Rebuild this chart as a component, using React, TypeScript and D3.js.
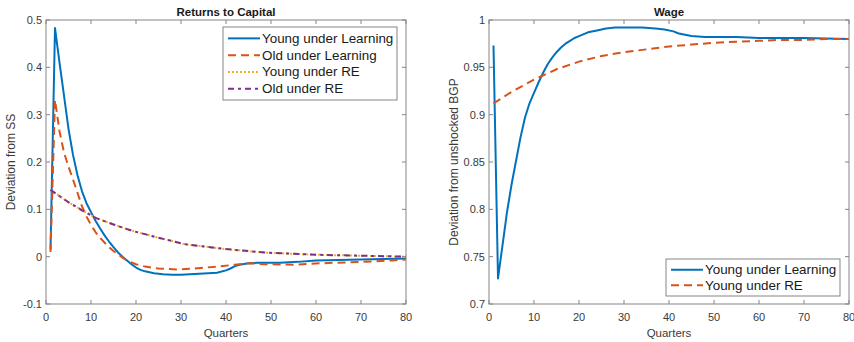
import * as d3 from 'd3';

// Returns to Capital (left panel)
const capYoungLearnX = [1, 2, 3, 4, 5, 6, 7, 8, 9, 10, 11, 12, 13, 14, 15, 16, 17, 18, 19, 20, 21, 22, 24, 26, 28, 30, 32, 34, 36, 38, 40, 41, 42, 43, 45, 47, 50, 52, 54, 56, 60, 65, 70, 75, 80];
const capYoungLearnY = [0.015, 0.483, 0.41, 0.34, 0.27, 0.215, 0.172, 0.138, 0.113, 0.094, 0.076, 0.06, 0.045, 0.032, 0.02, 0.009, 0.0, -0.008, -0.016, -0.023, -0.028, -0.031, -0.035, -0.037, -0.038, -0.038, -0.037, -0.036, -0.035, -0.034, -0.029, -0.025, -0.02, -0.017, -0.014, -0.013, -0.013, -0.013, -0.012, -0.011, -0.008, -0.007, -0.006, -0.005, -0.004];

const capOldLearnX = [1, 2, 3, 4, 5, 6, 7, 8, 9, 10, 11, 12, 13, 14, 15, 16, 17, 18, 20, 22, 25, 29, 33, 38, 42, 45, 49, 55, 61, 70, 77, 80];
const capOldLearnY = [0.01, 0.331, 0.265, 0.22, 0.19, 0.163, 0.135, 0.106, 0.085, 0.067, 0.052, 0.04, 0.03, 0.02, 0.012, 0.005, -0.002, -0.008, -0.016, -0.021, -0.025, -0.027, -0.025, -0.021, -0.017, -0.014, -0.016, -0.017, -0.014, -0.011, -0.008, -0.006];

const capREX = [1, 5, 8, 11, 15, 19, 25, 31, 40, 49, 60, 70, 80];
const capYoungREY = [0.141, 0.115, 0.098, 0.082, 0.068, 0.055, 0.04, 0.026, 0.016, 0.0085, 0.004, 0.002, 0.0];
const capOldREY = [0.141, 0.115, 0.098, 0.082, 0.068, 0.055, 0.04, 0.026, 0.016, 0.0085, 0.004, 0.002, 0.0];

// Wage (right panel)
const wageYoungLearnX = [1, 2, 3, 4, 5, 6, 7, 8, 9, 10, 11, 12, 13, 14, 15, 16, 17, 18, 19, 20, 22, 24, 26, 28, 30, 34, 37, 39, 41, 42, 43, 45, 48, 55, 60, 70, 80];
const wageYoungLearnY = [0.973, 0.727, 0.762, 0.797, 0.826, 0.851, 0.876, 0.897, 0.912, 0.923, 0.934, 0.944, 0.953, 0.96, 0.966, 0.971, 0.975, 0.978, 0.981, 0.983, 0.987, 0.989, 0.991, 0.992, 0.992, 0.992, 0.991, 0.99, 0.988, 0.986, 0.985, 0.983, 0.982, 0.982, 0.981, 0.981, 0.98];

const wageYoungREX = [1, 5, 10, 15, 20, 25, 30, 35, 40, 45, 50, 55, 60, 65, 70, 75, 80];
const wageYoungREY = [0.912, 0.924, 0.937, 0.948, 0.956, 0.962, 0.966, 0.969, 0.972, 0.974, 0.976, 0.977, 0.978, 0.979, 0.979, 0.98, 0.98];

const xTicks = [0, 10, 20, 30, 40, 50, 60, 70, 80];
const capTicks = [-0.1, 0, 0.1, 0.2, 0.3, 0.4, 0.5];
const wageTicks = [0.7, 0.75, 0.8, 0.85, 0.9, 0.95, 1];

const BLUE = '#0072BD';
const ORANGE = '#D95319';
const YELLOW = '#EDB120';
const PURPLE = '#7E2F8E';
const AXIS = '#858585';
const TEXT = '#3a3a3a';
const FONT = '"Liberation Sans", Arial, sans-serif';

interface Series {
  xs: number[];
  ys: number[];
  color: string;
  dash?: string;
  label: string;
}

interface PanelProps {
  left: number;
  right: number;
  top: number;
  bottom: number;
  yDomain: [number, number];
  yTicks: number[];
  title: string;
  yLabel: string;
  series: Series[];
  legend: { x: number; y: number; w: number; h: number };
}

function Panel(p: PanelProps) {
  const x = d3.scaleLinear().domain([0, 80]).range([p.left, p.right]);
  const y = d3.scaleLinear().domain(p.yDomain).range([p.bottom, p.top]);
  const line = d3.line<[number, number]>().x(d => x(d[0])).y(d => y(d[1]));
  const midX = (p.left + p.right) / 2;
  const midY = (p.top + p.bottom) / 2;
  const rowH = (p.legend.h - 6) / p.series.length;

  return (
    <g>
      <defs>
        <clipPath id={`clip-${p.left}`}>
          <rect x={p.left} y={p.top} width={p.right - p.left} height={p.bottom - p.top} />
        </clipPath>
      </defs>
      {/* series */}
      <g clipPath={`url(#clip-${p.left})`}>
        {p.series.map((s, i) => (
          <path
            key={i}
            d={line(s.xs.map((v, j) => [v, s.ys[j]] as [number, number])) || ''}
            fill="none"
            stroke={s.color}
            strokeWidth={2}
            strokeDasharray={s.dash}
            strokeLinejoin="round"
          />
        ))}
      </g>
      {/* box */}
      <rect x={p.left} y={p.top} width={p.right - p.left} height={p.bottom - p.top} fill="none" stroke={AXIS} strokeWidth={1} />
      {/* x ticks */}
      {xTicks.map(t => (
        <g key={`x${t}`}>
          <line x1={x(t)} x2={x(t)} y1={p.bottom} y2={p.bottom - 4} stroke={AXIS} />
          <line x1={x(t)} x2={x(t)} y1={p.top} y2={p.top + 4} stroke={AXIS} />
          <text x={x(t)} y={p.bottom + 17} textAnchor="middle" fontSize={11} fill={TEXT} fontFamily={FONT}>{t}</text>
        </g>
      ))}
      {/* y ticks */}
      {p.yTicks.map(t => (
        <g key={`y${t}`}>
          <line x1={p.left} x2={p.left + 4} y1={y(t)} y2={y(t)} stroke={AXIS} />
          <line x1={p.right} x2={p.right - 4} y1={y(t)} y2={y(t)} stroke={AXIS} />
          <text x={p.left - 4} y={y(t) + 4} textAnchor="end" fontSize={11} fill={TEXT} fontFamily={FONT}>{String(t)}</text>
        </g>
      ))}
      <text x={midX} y={p.top - 4} textAnchor="middle" fontSize={11.5} fontWeight="bold" fill="#1a1a1a" fontFamily={FONT}>{p.title}</text>
      <text x={midX} y={p.bottom + 33} textAnchor="middle" fontSize={11.5} fill={TEXT} fontFamily={FONT}>Quarters</text>
      <text
        transform={`translate(${p.left - 31},${midY}) rotate(-90)`}
        textAnchor="middle"
        fontSize={12}
        fill={TEXT}
        fontFamily={FONT}
      >{p.yLabel}</text>
      {/* legend */}
      <rect x={p.legend.x} y={p.legend.y} width={p.legend.w} height={p.legend.h} fill="#fff" stroke={AXIS} />
      {p.series.map((s, i) => {
        const cy = p.legend.y + 3 + rowH * (i + 0.5);
        return (
          <g key={`l${i}`}>
            <line x1={p.legend.x + 5} x2={p.legend.x + 37} y1={cy} y2={cy} stroke={s.color} strokeWidth={2} strokeDasharray={s.dash} />
            <text x={p.legend.x + 39} y={cy + 4.5} fontSize={13.4} fill="#1a1a1a" fontFamily={FONT}>{s.label}</text>
          </g>
        );
      })}
    </g>
  );
}

export default function App() {
  const capSeries: Series[] = [
    { xs: capYoungLearnX, ys: capYoungLearnY, color: BLUE, label: 'Young under Learning' },
    { xs: capOldLearnX, ys: capOldLearnY, color: ORANGE, dash: '8,5', label: 'Old under Learning' },
    { xs: capREX, ys: capYoungREY, color: YELLOW, dash: '2,2', label: 'Young under RE' },
    { xs: capREX, ys: capOldREY, color: PURPLE, dash: '6,4,3,4', label: 'Old under RE' },
  ];
  const wageSeries: Series[] = [
    { xs: wageYoungLearnX, ys: wageYoungLearnY, color: BLUE, label: 'Young under Learning' },
    { xs: wageYoungREX, ys: wageYoungREY, color: ORANGE, dash: '8,5', label: 'Young under RE' },
  ];
  return (
    <svg width={854} height={342} style={{ position: 'absolute', left: 0, top: 0, background: '#fff' }}>
      <rect width={854} height={342} fill="#fff" />
      <Panel
        left={46}
        right={406}
        top={20}
        bottom={304}
        yDomain={[-0.1, 0.5]}
        yTicks={capTicks}
        title="Returns to Capital"
        yLabel="Deviation from SS"
        series={capSeries}
        legend={{ x: 223, y: 27, w: 174, h: 73 }}
      />
      <Panel
        left={489}
        right={849}
        top={20}
        bottom={304}
        yDomain={[0.7, 1]}
        yTicks={wageTicks}
        title="Wage"
        yLabel="Deviation from unshocked BGP"
        series={wageSeries}
        legend={{ x: 666, y: 259, w: 174, h: 37 }}
      />
    </svg>
  );
}
